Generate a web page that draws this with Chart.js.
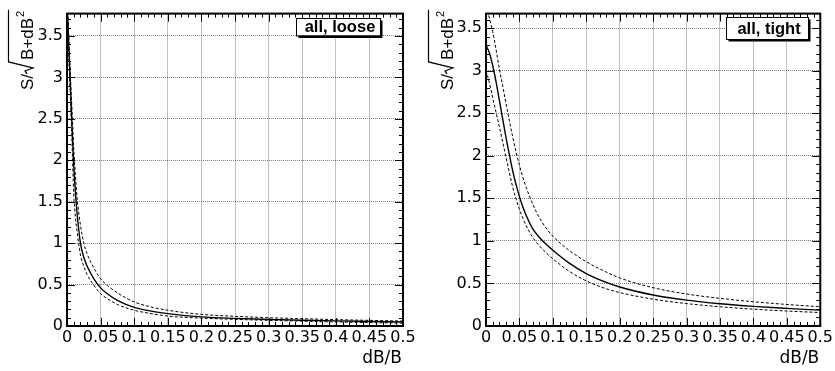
<!DOCTYPE html>
<html>
<head>
<meta charset="utf-8">
<script src="https://cdn.jsdelivr.net/npm/chart.js@4.4.1/dist/chart.umd.min.js"></script>
<style>
  html, body { margin: 0; padding: 0; background: #fff; }
  #wrap { position: relative; width: 835px; height: 371px; overflow: hidden; }
  canvas { position: absolute; top: 0; }
  #c1 { left: 0; }
  #c2 { left: 418px; }
</style>
</head>
<body>
<div id="wrap">
  <canvas id="c1" width="418" height="371"></canvas>
  <canvas id="c2" width="417" height="371"></canvas>
</div>
<script>
// ===== Data
const xTickLabels = ['0', '0.05', '0.1', '0.15', '0.2', '0.25', '0.3', '0.35', '0.4', '0.45', '0.5'];
const yTickLabels = ['0', '0.5', '1', '1.5', '2', '2.5', '3', '3.5'];

const looseX   = [0.001, 0.0025, 0.005, 0.0075, 0.01, 0.0125, 0.015, 0.02, 0.025, 0.03, 0.04, 0.05, 0.06, 0.075, 0.1, 0.125, 0.15, 0.2, 0.25, 0.3, 0.35, 0.4, 0.45, 0.5];
const looseMid = [3.75, 3.42, 2.92, 2.4, 1.95, 1.62, 1.36, 1.0, 0.83, 0.72, 0.57, 0.46, 0.39, 0.31, 0.225, 0.18, 0.15, 0.11, 0.092, 0.08, 0.07, 0.062, 0.055, 0.048];
const looseUp  = [3.85, 3.5, 3.02, 2.6, 2.15, 1.82, 1.55, 1.22, 1.0, 0.87, 0.7, 0.57, 0.49, 0.4, 0.29, 0.23, 0.19, 0.14, 0.117, 0.1, 0.088, 0.077, 0.068, 0.06];
const looseLow = [3.65, 3.3, 2.78, 2.2, 1.6, 1.32, 1.14, 0.86, 0.72, 0.62, 0.49, 0.39, 0.33, 0.26, 0.19, 0.15, 0.12, 0.095, 0.08, 0.068, 0.058, 0.049, 0.041, 0.035];

const tightX   = [0, 0.005, 0.01, 0.015, 0.02, 0.025, 0.03, 0.035, 0.04, 0.045, 0.05, 0.055, 0.06, 0.07, 0.08, 0.09, 0.1, 0.125, 0.15, 0.175, 0.2, 0.25, 0.3, 0.35, 0.4, 0.45, 0.5];
const tightMid = [3.3, 3.21, 3.06, 2.87, 2.65, 2.43, 2.21, 2.01, 1.82, 1.66, 1.52, 1.4, 1.3, 1.14, 1.04, 0.96, 0.89, 0.735, 0.615, 0.527, 0.458, 0.364, 0.304, 0.262, 0.231, 0.207, 0.186];
const tightUp  = [3.76, 3.62, 3.46, 3.25, 3.02, 2.82, 2.61, 2.41, 2.22, 2.04, 1.89, 1.75, 1.63, 1.43, 1.27, 1.15, 1.055, 0.885, 0.755, 0.652, 0.565, 0.45, 0.376, 0.325, 0.285, 0.253, 0.226];
const tightLow = [3.0, 2.86, 2.68, 2.51, 2.34, 2.16, 1.98, 1.8, 1.63, 1.49, 1.37, 1.27, 1.18, 1.04, 0.94, 0.86, 0.79, 0.64, 0.53, 0.45, 0.393, 0.315, 0.263, 0.226, 0.198, 0.176, 0.158];

const toXY = (xs, ys) => xs.map((x, i) => ({ x, y: ys[i] }));

// ===== ROOT-like frame: inner ticks, box, labels, titles
const rootFrame = {
  id: 'rootFrame',
  afterDraw(chart, args, o) {
    const { ctx, chartArea: a } = chart;
    const xs = chart.scales.x, ys = chart.scales.y;
    ctx.save();
    ctx.strokeStyle = '#000';
    ctx.fillStyle = '#000';

    // inner tick marks
    ctx.lineWidth = 1;
    ctx.beginPath();
    for (let i = 0; i <= 50; i++) {
      const px = Math.round(xs.getPixelForValue(i * 0.01)) + 0.5;
      const len = i % 5 === 0 ? 8 : 4;
      ctx.moveTo(px, a.bottom); ctx.lineTo(px, a.bottom - len);
      ctx.moveTo(px, a.top); ctx.lineTo(px, a.top + len);
    }
    for (let i = 0; i * 0.1 <= ys.max + 1e-9; i++) {
      const py = Math.round(ys.getPixelForValue(i * 0.1)) + 0.5;
      const len = i % 5 === 0 ? 8 : 4;
      ctx.moveTo(a.left, py); ctx.lineTo(a.left + len, py);
      ctx.moveTo(a.right, py); ctx.lineTo(a.right - len, py);
    }
    ctx.stroke();

    // frame
    ctx.lineWidth = 2;
    ctx.strokeRect(a.left, a.top, a.right - a.left, a.bottom - a.top);

    // legend pave with shadow
    const b = o.box;
    ctx.fillRect(b.x + 2.5, b.y + 2.5, b.w, b.h);
    ctx.fillStyle = '#fff';
    ctx.fillRect(b.x, b.y, b.w, b.h);
    ctx.lineWidth = 1;
    ctx.strokeRect(b.x + 0.5, b.y + 0.5, b.w, b.h);
    ctx.fillStyle = '#000';
    ctx.font = 'bold 16.5px "Liberation Sans"';
    ctx.textAlign = 'center';
    ctx.textBaseline = 'middle';
    ctx.fillText(b.text, b.x + b.w / 2 + 2, b.y + b.h / 2 + 1);

    // x title
    ctx.font = '17px "DejaVu Sans"';
    ctx.textAlign = 'right';
    ctx.textBaseline = 'alphabetic';
    ctx.fillText('dB/B', a.right - 1, 363);

    // y title: S/sqrt(B+dB^2), rotated
    ctx.translate(o.titleX, 90);
    ctx.rotate(-Math.PI / 2);
    ctx.textAlign = 'left';
    ctx.font = '17px "Liberation Sans"';
    ctx.fillText('S/', 0, 0);
    const wS = ctx.measureText('S/').width;
    const u0 = wS + 1;
    ctx.lineWidth = 1.2;
    ctx.beginPath();
    ctx.moveTo(u0 - 1, -6);
    ctx.lineTo(u0 + 2, -8);
    ctx.lineTo(u0 + 5, 0);
    ctx.lineTo(u0 + 11, -24.5);
    const wB = ctx.measureText('B+dB').width;
    ctx.font = '11px "Liberation Sans"';
    const w2 = ctx.measureText('2').width;
    ctx.lineTo(u0 + 13 + wB + w2 + 2, -24.5);
    ctx.stroke();
    ctx.font = '17px "Liberation Sans"';
    ctx.fillText('B+dB', u0 + 13, 0);
    ctx.font = '11px "Liberation Sans"';
    ctx.fillText('2', u0 + 13 + wB + 1, -9);
    ctx.restore();
  }
};

function makePanel(canvas, xs, mid, up, low, cfg) {
  const W = canvas.width;
  return new Chart(canvas.getContext('2d'), {
    type: 'line',
    data: {
      datasets: [
        { data: toXY(xs, up),  borderColor: '#000', borderWidth: 1, borderDash: [3, 2] },
        { data: toXY(xs, low), borderColor: '#000', borderWidth: 1, borderDash: [3, 2] },
        { data: toXY(xs, mid), borderColor: '#000', borderWidth: 1.4 }
      ]
    },
    options: {
      responsive: false,
      animation: false,
      devicePixelRatio: 1,
      parsing: false,
      clip: 0,
      elements: {
        point: { radius: 0 },
        line: { cubicInterpolationMode: 'monotone', fill: false }
      },
      layout: { padding: { left: 0, top: 5, right: W - cfg.plotRight, bottom: 0 } },
      plugins: {
        legend: { display: false },
        tooltip: { enabled: false },
        rootFrame: { box: cfg.box, titleX: cfg.titleX }
      },
      scales: {
        x: {
          type: 'linear', min: 0, max: 0.5,
          afterFit: s => { s.height = 45; },
          grid: { color: 'rgba(0,0,0,0.5)', lineWidth: 1, drawTicks: false },
          border: { display: false, dash: [1, 1] },
          ticks: {
            stepSize: 0.05, includeBounds: false, autoSkip: false,
            maxRotation: 0, minRotation: 0, padding: 2, color: '#000',
            font: { family: '"DejaVu Sans"', size: 16 },
            callback: v => xTickLabels[Math.round(v * 20)]
          }
        },
        y: {
          type: 'linear', min: 0, max: cfg.yMax,
          afterFit: s => { s.width = cfg.plotLeft; },
          grid: { color: 'rgba(0,0,0,0.5)', lineWidth: 1, drawTicks: false },
          border: { display: false, dash: [1, 1] },
          ticks: {
            stepSize: 0.5, includeBounds: false, padding: 4, color: '#000',
            font: { family: '"DejaVu Sans"', size: 16 },
            callback: v => yTickLabels[Math.round(v * 2)]
          }
        }
      }
    },
    plugins: [rootFrame]
  });
}

makePanel(document.getElementById('c1'), looseX, looseMid, looseUp, looseLow, {
  yMax: 3.77, plotLeft: 67, plotRight: 403, titleX: 33,
  box: { x: 296, y: 18, w: 84, h: 17.5, text: 'all, loose' }
});
makePanel(document.getElementById('c2'), tightX, tightMid, tightUp, tightLow, {
  yMax: 3.67, plotLeft: 68, plotRight: 404, titleX: 35,
  box: { x: 308, y: 17, w: 82, h: 22, text: 'all, tight' }
});
</script>
</body>
</html>
